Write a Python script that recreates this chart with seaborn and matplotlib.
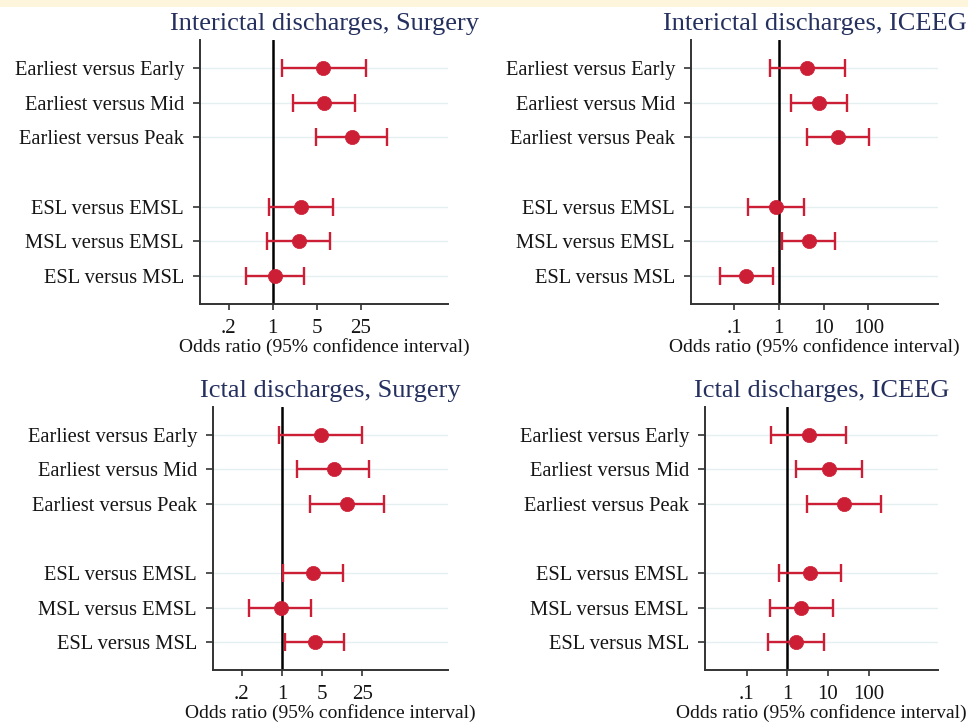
import matplotlib
matplotlib.use("Agg")
import matplotlib.pyplot as plt
from matplotlib.patches import Rectangle
from matplotlib.ticker import NullLocator
import seaborn as sns
import pandas as pd

# ---------------- data ----------------
comparisons = ["Earliest versus Early", "Earliest versus Mid", "Earliest versus Peak",
               "ESL versus EMSL", "MSL versus EMSL", "ESL versus MSL"]
row_pos = [1, 2, 3, 5, 6, 7]

titles = ["Interictal discharges, Surgery", "Interictal discharges, ICEEG",
          "Ictal discharges, Surgery", "Ictal discharges, ICEEG"]

inter_surg_or = [6.3, 6.5, 17.9, 2.8, 2.6, 1.09]
inter_surg_lo = [1.42, 2.08, 4.8, 0.88, 0.82, 0.38]
inter_surg_hi = [30.3, 20.5, 66.0, 9.0, 8.1, 3.1]

inter_iceeg_or = [4.3, 8.0, 20.9, 0.87, 4.6, 0.19]
inter_iceeg_lo = [0.63, 1.88, 4.3, 0.205, 1.19, 0.048]
inter_iceeg_hi = [30.0, 33.0, 103.0, 3.7, 17.5, 0.75]

ictal_surg_or = [4.7, 8.0, 13.6, 3.5, 0.95, 3.7]
ictal_surg_lo = [0.89, 1.85, 3.1, 1.05, 0.27, 1.14]
ictal_surg_hi = [24.5, 32.5, 60.0, 11.6, 3.2, 12.1]

ictal_iceeg_or = [3.4, 10.6, 24.9, 3.6, 2.2, 1.67]
ictal_iceeg_lo = [0.40, 1.60, 3.0, 0.61, 0.37, 0.33]
ictal_iceeg_hi = [27.4, 70.6, 207.0, 20.6, 13.1, 8.0]

surg_ticks = [0.2, 1, 5, 25]
surg_ticklabels = [".2", "1", "5", "25"]
iceeg_ticks = [0.1, 1, 10, 100]
iceeg_ticklabels = [".1", "1", "10", "100"]
xlabel = "Odds ratio (95% confidence interval)"

# ---------------- style ----------------
sns.set_theme(style="white")
plt.rcParams["font.family"] = ["Liberation Serif", "DejaVu Serif"]

RED = "#cc1f36"
NAVY = "#25305e"
TXT = "#141414"

fig = plt.figure(figsize=(9.68, 7.24), dpi=100)
fig.patch.set_facecolor("white")
fig.add_artist(Rectangle((0, 1 - 7 / 724), 1, 7 / 724, transform=fig.transFigure,
                         facecolor="#fdf5dc", edgecolor="none", zorder=0))

W, H = 968.0, 724.0
# pixel boxes: left, right, top, bottom
boxes = [(200, 448, 40, 304), (691, 938, 40, 304),
         (213, 448, 407, 670), (705, 938, 407, 670)]
xlims = [(0.0699, 612), (0.011, 3557), (0.0628, 780), (0.0094, 5130)]

panels = [
    (inter_surg_or, inter_surg_lo, inter_surg_hi, surg_ticks, surg_ticklabels),
    (inter_iceeg_or, inter_iceeg_lo, inter_iceeg_hi, iceeg_ticks, iceeg_ticklabels),
    (ictal_surg_or, ictal_surg_lo, ictal_surg_hi, surg_ticks, surg_ticklabels),
    (ictal_iceeg_or, ictal_iceeg_lo, ictal_iceeg_hi, iceeg_ticks, iceeg_ticklabels),
]

for i, (est, lo, hi, ticks, tlabels) in enumerate(panels):
    l, r, t, b = boxes[i]
    ax = fig.add_axes([l / W, (H - b) / H, (r - l) / W, (b - t) / H])
    ax.set_facecolor("white")
    df = pd.DataFrame({"label": comparisons, "pos": row_pos, "or": est, "lo": lo, "hi": hi})

    ax.set_xscale("log")
    ax.set_xlim(*xlims[i])
    ax.set_ylim(7.8, 0.2)

    for yv in row_pos:
        ax.axhline(yv, color="#e4eff0", lw=1.0, zorder=0)
    ax.axvline(1, color="black", lw=1.8, zorder=1)

    ax.errorbar(df["or"], df["pos"],
                xerr=[df["or"] - df["lo"], df["hi"] - df["or"]],
                fmt="none", ecolor=RED, elinewidth=1.7, capsize=6.5, capthick=1.7, zorder=2)
    sns.scatterplot(data=df, x="or", y="pos", ax=ax, color=RED, s=105,
                    edgecolor=RED, linewidth=0.5, zorder=3, legend=False)

    ax.set_yticks(row_pos)
    ax.set_yticklabels(comparisons, fontsize=14.8, color=TXT)
    ax.set_xticks(ticks)
    ax.set_xticklabels(tlabels, fontsize=15, color=TXT)
    ax.xaxis.set_minor_locator(NullLocator())
    ax.tick_params(axis="y", direction="out", length=5, width=1.2, color="#333333", pad=6.5, left=True)
    ax.tick_params(axis="x", direction="out", length=4, width=1.2, color="#333333", pad=7, bottom=True)

    ax.set_xlabel(xlabel, fontsize=14.0, color=TXT, labelpad=0)
    ax.set_ylabel("")
    ax.set_title(titles[i], fontsize=19, color=NAVY, pad=7)

    for s in ["top", "right"]:
        ax.spines[s].set_visible(False)
    for s in ["left", "bottom"]:
        ax.spines[s].set_color("#333333")
        ax.spines[s].set_linewidth(1.4)

fig.savefig("out.png", dpi=100, facecolor="white")
